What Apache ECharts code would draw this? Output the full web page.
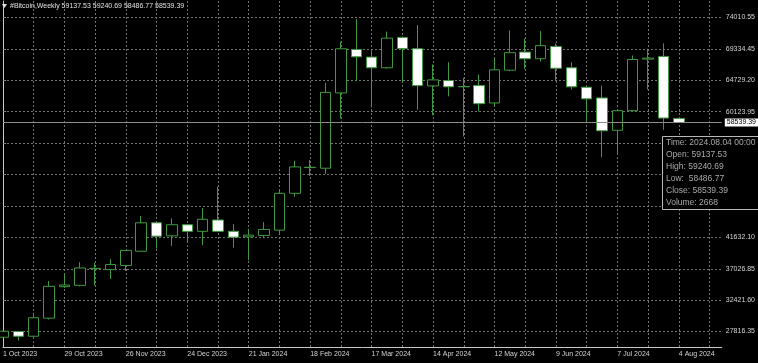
<!DOCTYPE html>
<html><head><meta charset="utf-8">
<script src="https://cdn.jsdelivr.net/npm/echarts@6/dist/echarts.min.js"></script>
<style>html,body{margin:0;padding:0;background:#000;}#c{width:758px;height:363px;}</style>
</head><body><div id="c"></div>
<script>
const weeks = ['1 Oct 2023','8 Oct 2023','15 Oct 2023','22 Oct 2023','29 Oct 2023',
  '5 Nov 2023','12 Nov 2023','19 Nov 2023','26 Nov 2023',
  '3 Dec 2023','10 Dec 2023','17 Dec 2023','24 Dec 2023','31 Dec 2023',
  '7 Jan 2024','14 Jan 2024','21 Jan 2024','28 Jan 2024',
  '4 Feb 2024','11 Feb 2024','18 Feb 2024','25 Feb 2024',
  '3 Mar 2024','10 Mar 2024','17 Mar 2024','24 Mar 2024','31 Mar 2024',
  '7 Apr 2024','14 Apr 2024','21 Apr 2024','28 Apr 2024',
  '5 May 2024','12 May 2024','19 May 2024','26 May 2024',
  '2 Jun 2024','9 Jun 2024','16 Jun 2024','23 Jun 2024','30 Jun 2024',
  '7 Jul 2024','14 Jul 2024','21 Jul 2024','28 Jul 2024','4 Aug 2024'];
const opens  = [26958,27800,27106,29762,34397,34589,37053,36906,37512,39608,43785,41866,43500,42530,44199,42530,41718,41925,42707,48124,51950,51814,62884,69275,68153,66589,71047,69378,63918,64714,63784,63962,61408,66235,68891,67917,69718,66589,63725,62146,57393,60272,67858,68256,59137.53];
const highs  = [27900,27874,30560,35224,36213,37984,37880,38427,39770,44774,43850,44434,43600,45960,49098,43593,42902,43888,48611,52891,53039,64360,70412,73750,69024,71903,71200,72862,67061,67400,65113,65585,67903,72080,70869,71978,70161,67400,63870,63962,60419,68389,69378,70161,59240.69];
const lows   = [26900,26470,27060,29570,34200,34441,34589,35519,36700,39534,39997,40390,40980,40493,42400,40154,38279,41527,42073,47622,50678,50973,59135,64596,60759,66441,64508,60419,59578,62382,56479,60168,60906,66087,66441,67504,64596,63371,58692,53438,54072,60168,63371,57467,58486.77];
const closes = [27844,27106,29822,34441,34633,37142,37080,37644,39726,43785,41822,43500,42530,44300,42530,41674,41970,42810,48124,52006,51900,62972,69378,68198,66589,70943,69423,63962,64803,63784,63830,61305,66279,68803,67917,69836,66515,63784,62012,57320,60272,67799,68005,59194,58539.39];
const priceTicks = [27816.35,32421.60,37026.85,41632.10,46255.06,50878.03,55500.99,60123.95,64729.20,69334.45,74010.55];
const symbolName = '#Bitcoin,Weekly';
const lastTime = '2024.08.04 00:00';
const lastVolume = 2668;

const n = weeks.length;
const last = n - 1;
const candles = weeks.map((w, i) => [i, opens[i], closes[i], lows[i], highs[i]]);
const f2 = v => v.toFixed(2);
const green = '#3f9a3f';
const font = 'Liberation Sans';
const grid = {color: '#727272', type: [2, 2], width: 1};

const chart = echarts.init(document.getElementById('c'), null, {renderer: 'canvas'});
chart.setOption({
  backgroundColor: '#000000',
  animation: false,
  grid: {left: 0, right: 34, top: 1, bottom: 16, containLabel: false},
  xAxis: {
    type: 'value', min: 0, max: 46.8, interval: 2,
    axisLine: {show: true, lineStyle: {color: '#c8c8c8', width: 1}},
    axisTick: {show: false},
    splitLine: {show: true, showMinLine: false, showMaxLine: false, lineStyle: grid},
    axisLabel: {
      show: true, color: '#d4d4d4', fontFamily: font, fontSize: 7, align: 'left', margin: 4,
      showMinLabel: true, showMaxLabel: true,
      formatter: v => (Number.isInteger(v) && v % 4 === 0 && weeks[v]) ? weeks[v] : ''
    }
  },
  yAxis: {
    type: 'value', position: 'right', min: 25521, max: 76403,
    axisLine: {show: true, lineStyle: {color: '#c8c8c8', width: 1}},
    axisTick: {show: true, length: 3, customValues: priceTicks, lineStyle: {color: '#8a8a8a'}},
    splitLine: {show: true, lineStyle: grid},
    axisLabel: {
      show: true, customValues: priceTicks, color: '#d4d4d4', fontFamily: font, fontSize: 7, margin: 4,
      formatter: v => f2(v)
    }
  },
  series: [{
    type: 'candlestick',
    data: candles,
    encode: {x: 0, y: [1, 2, 3, 4]},
    barWidth: 11,
    itemStyle: {color: '#000000', color0: '#ffffff', borderColor: green, borderColor0: green, borderWidth: 1},
    markLine: {
      silent: true, symbol: ['none', 'none'],
      lineStyle: {color: '#8c8c8c', type: 'solid', width: 1},
      label: {
        show: true, position: 'end', distance: 3, formatter: f2(closes[last]),
        color: '#000000', backgroundColor: '#ffffff', fontFamily: font, fontSize: 7,
        padding: [1, 3, 0, 2]
      },
      data: [{yAxis: closes[last]}]
    }
  }],
  graphic: [
    {type: 'polygon', z: 100, shape: {points: [[2, 4], [7, 4], [4.5, 8]]}, style: {fill: '#e0e0e0'}},
    {type: 'text', z: 100, left: 10, top: 3,
     style: {text: symbolName + ' ' + [opens[last], highs[last], lows[last], closes[last]].map(f2).join(' '),
             fill: '#e0e0e0', font: '7px "Liberation Sans"'}},
    {type: 'rect', z: 100, shape: {x: 662.5, y: 136.5, width: 100, height: 73},
     style: {fill: '#000000', stroke: '#b8b8b8', lineWidth: 1}},
    {type: 'text', z: 101, left: 666, top: 137,
     style: {
       text: ['Time: ' + lastTime, 'Open: ' + f2(opens[last]), 'High: ' + f2(highs[last]),
              'Low:  ' + f2(lows[last]), 'Close: ' + f2(closes[last]), 'Volume: ' + lastVolume].join('\n'),
       fill: '#a8a8a8', font: '8.5px "Liberation Sans"', lineHeight: 12
     }}
  ]
});
</script></body></html>
